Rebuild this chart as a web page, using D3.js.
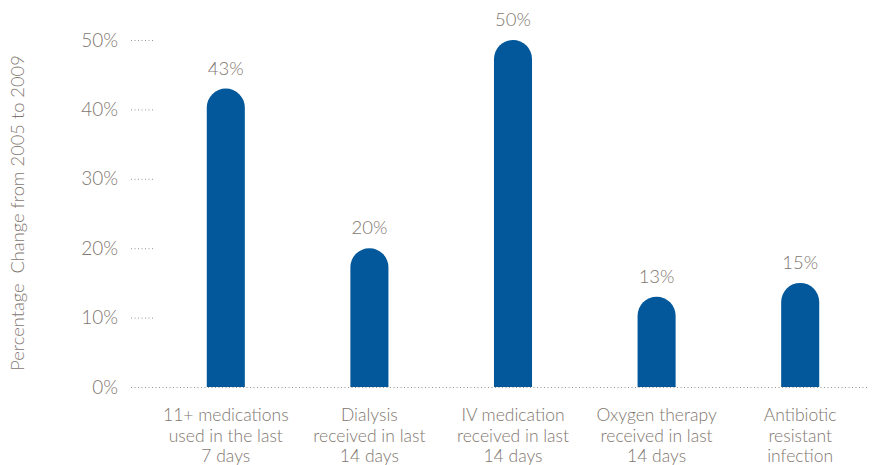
<!DOCTYPE html>
<html>
<head>
<meta charset="utf-8">
<script src="https://cdn.jsdelivr.net/npm/d3@7"></script>
<style>
  body { margin: 0; background: #fff; }
  text { font-family: Lato, "Open Sans", sans-serif; font-weight: 300; }
</style>
</head>
<body>
<svg id="chart"></svg>
<script>
const width = 873, height = 465;

// DATA
const categories = [
  ["11+ medications", "used in the last", "7 days"],
  ["Dialysis", "received in last", "14 days"],
  ["IV medication", "received in last", "14 days"],
  ["Oxygen therapy", "received in last", "14 days"],
  ["Antibiotic", "resistant", "infection"]
];
const values = [43, 20, 50, 13, 15];
const yTicks = [0, 10, 20, 30, 40, 50];

const barColor = "#02589b";
const textColor = "#7f776f";

const svg = d3.select("#chart")
    .attr("width", width)
    .attr("height", height);

const x = d3.scaleBand()
    .domain(d3.range(values.length))
    .range([154, 872])
    .paddingInner(0.735)
    .paddingOuter(0.3675);

const y = d3.scaleLinear()
    .domain([0, 50])
    .range([387, 40]);

// y tick labels + short dotted marks
const ticks = svg.append("g");
ticks.selectAll("text")
  .data(yTicks)
  .enter().append("text")
    .attr("x", 118)
    .attr("y", d => y(d))
    .attr("dy", "0.35em")
    .attr("text-anchor", "end")
    .attr("fill", textColor)
    .attr("font-size", 19)
    .text(d => d + "%");
ticks.selectAll("line")
  .data(yTicks.filter(d => d > 0))
  .enter().append("line")
    .attr("x1", 131).attr("x2", 153)
    .attr("y1", d => y(d) + 0.5).attr("y2", d => y(d) + 0.5)
    .attr("stroke", "#9a948d")
    .attr("stroke-width", 1)
    .attr("stroke-dasharray", "1,2.5");

// baseline
svg.append("line")
    .attr("x1", 131).attr("x2", 869)
    .attr("y1", y(0) + 0.5).attr("y2", y(0) + 0.5)
    .attr("stroke", "#9a948d")
    .attr("stroke-dasharray", "1,2.5");

// bars with rounded tops
function barPath(i, v) {
  const x0 = x(i), w = x.bandwidth(), r = w / 2;
  const top = y(v), bottom = y(0);
  return `M${x0},${bottom} L${x0},${top + r} A${r},${r} 0 0 1 ${x0 + w},${top + r} L${x0 + w},${bottom} Z`;
}
svg.append("g").selectAll("path")
  .data(values)
  .enter().append("path")
    .attr("d", (d, i) => barPath(i, d))
    .attr("fill", barColor);

// value labels
svg.append("g").selectAll("text")
  .data(values)
  .enter().append("text")
    .attr("x", (d, i) => x(i) + x.bandwidth() / 2)
    .attr("y", d => y(d) - 14)
    .attr("text-anchor", "middle")
    .attr("fill", textColor)
    .attr("font-size", 18.5)
    .text(d => d + "%");

// category labels
const cat = svg.append("g").selectAll("text")
  .data(categories)
  .enter().append("text")
    .attr("x", (d, i) => x(i) + x.bandwidth() / 2)
    .attr("y", 421)
    .attr("text-anchor", "middle")
    .attr("fill", textColor)
    .attr("font-size", 17.5);
cat.selectAll("tspan")
  .data(d => d)
  .enter().append("tspan")
    .attr("x", function() { return this.parentNode.getAttribute("x"); })
    .attr("dy", (d, j) => j === 0 ? 0 : 20.5)
    .text(d => d);

// y axis title
svg.append("text")
    .attr("transform", `translate(24, ${213}) rotate(-90)`)
    .attr("text-anchor", "middle")
    .attr("fill", textColor)
    .attr("font-size", 18.3)
    .style("white-space", "pre")
    .text("Percentage  Change from 2005 to 2009");
</script>
</body>
</html>
